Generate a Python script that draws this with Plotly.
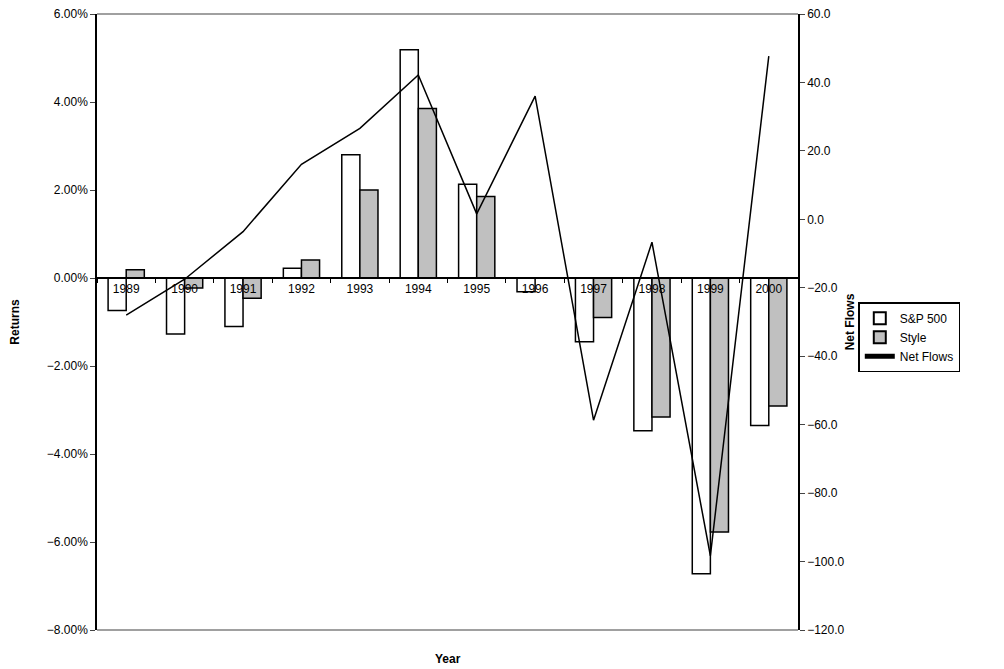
import plotly.graph_objects as go

years = ["1989","1990","1991","1992","1993","1994","1995","1996","1997","1998","1999","2000"]
sp500 = [-0.74,-1.27,-1.10,0.22,2.80,5.19,2.13,-0.31,-1.45,-3.47,-6.72,-3.35]
style = [0.19,-0.23,-0.46,0.41,2.00,3.85,1.85,0.0,-0.90,-3.16,-5.77,-2.91]
net_flows = [-28.0,-17.5,-3.6,16.1,26.6,42.2,1.6,36.0,-58.7,-6.7,-98.3,47.7]

F = "Liberation Sans, Arial, sans-serif"
fig = go.Figure()
fig.add_bar(x=years, y=[v/100 for v in sp500], name="S&P 500",
            marker=dict(color="white", line=dict(color="black", width=1.5)))
fig.add_bar(x=years, y=[v/100 for v in style], name="Style",
            marker=dict(color="#c0c0c0", line=dict(color="black", width=1.5)))
fig.add_scatter(x=years, y=net_flows, name="Net Flows", mode="lines", yaxis="y2",
                line=dict(color="black", width=1.5))

fig.update_layout(
    width=996, height=661, paper_bgcolor="white", plot_bgcolor="white",
    margin=dict(l=89, r=206, t=6, b=39, autoexpand=False),
    font=dict(family=F, size=12, color="black"),
    barmode="group", bargap=0.38, bargroupgap=0,
    xaxis=dict(type="category", anchor="free", position=8/14, showline=True,
               linecolor="black", linewidth=1.5, ticks="outside", ticklen=4,
               tickson="boundaries", tickcolor="black", showgrid=False,
               tickfont=dict(size=12, family=F)),
    yaxis=dict(range=[-0.08, 0.06], dtick=0.02, tickformat=".2%", showline=True,
               linecolor="black", linewidth=1.5, ticks="outside", ticklen=5,
               showgrid=False, zeroline=False, tickfont=dict(size=12),
               ticklabeloverflow="allow",
               title=dict(text="<b>Returns</b>", font=dict(size=12), standoff=28)),
    yaxis2=dict(range=[-120, 60], dtick=20, tickformat=".1f", overlaying="y", side="right",
                showline=True, linecolor="black", linewidth=1.5, ticks="outside", ticklen=5,
                showgrid=False, zeroline=False, tickfont=dict(size=12),
                ticklabeloverflow="allow",
                title=dict(text="<b>Net Flows</b>", font=dict(size=12), standoff=2)),
    legend=dict(x=1.086, y=0.532, xanchor="left", yanchor="top",
                bordercolor="black", borderwidth=1.5, font=dict(size=12),
                traceorder="normal", tracegroupgap=0, itemwidth=30,
                itemsizing="constant"),
    shapes=[dict(type="line", xref="paper", yref="paper", x0=0, x1=1, y0=1, y1=1,
                 line=dict(color="gray", width=1.5)),
            dict(type="line", xref="paper", yref="paper", x0=0, x1=1, y0=0, y1=0,
                 line=dict(color="gray", width=1.5))],
    annotations=[dict(text="<b>Year</b>", xref="paper", yref="paper", x=0.5, y=0,
                      yshift=-38, showarrow=False, font=dict(size=12))],
    showlegend=True,
)
fig.write_html("out.html")
